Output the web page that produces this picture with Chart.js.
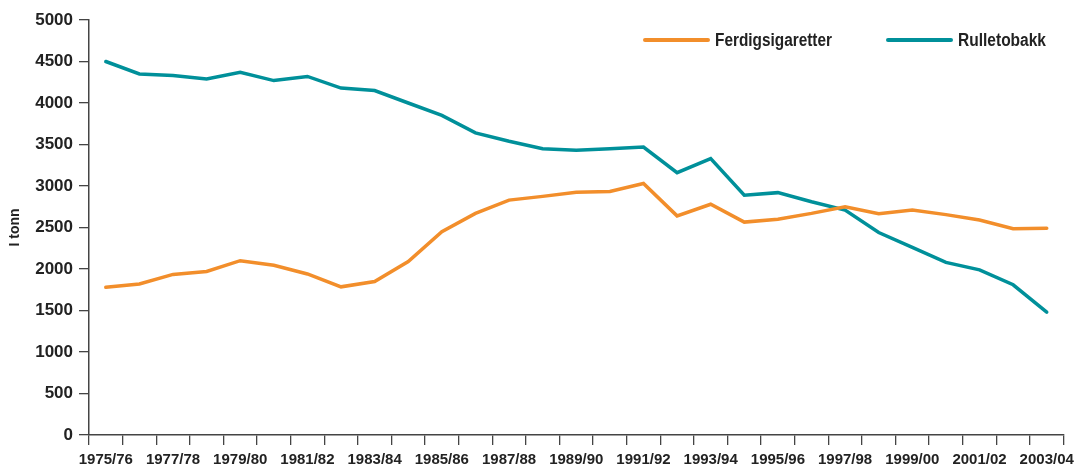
<!DOCTYPE html>
<html>
<head>
<meta charset="utf-8">
<script src="https://cdn.jsdelivr.net/npm/chart.js@4"></script>
<style>
html,body{margin:0;padding:0;background:#fff;}
#wrap{width:1080px;height:467px;position:relative;}
</style>
</head>
<body>
<div id="wrap"><canvas id="c" width="1080" height="467"></canvas></div>
<script>
const categories = ["1975/76","1976/77","1977/78","1978/79","1979/80","1980/81","1981/82","1982/83","1983/84","1984/85","1985/86","1986/87","1987/88","1988/89","1989/90","1990/91","1991/92","1992/93","1993/94","1994/95","1995/96","1996/97","1997/98","1998/99","1999/00","2000/01","2001/02","2002/03","2003/04"];
const ferdigsigaretter = [1780,1820,1935,1970,2100,2045,1940,1785,1850,2090,2450,2670,2830,2875,2925,2935,3030,2640,2780,2565,2600,2670,2750,2665,2710,2655,2590,2485,2490];
const rulletobakk = [4500,4350,4330,4290,4370,4270,4320,4180,4150,4000,3850,3640,3540,3450,3430,3450,3470,3160,3330,2890,2920,2810,2710,2440,2260,2080,1990,1810,1480];
const seriesNames = ["Ferdigsigaretter","Rulletobakk"];
const seriesColors = ["#F28E2B","#00909A"];
const yTitle = "I tonn";

const legendPlugin = {
  id: 'customLegend',
  afterDraw(chart){
    const ctx = chart.ctx;
    ctx.save();
    const pos = [645, 888];
    const textW = [117, 88];
    chart.data.datasets.forEach((ds, i) => {
      const x = pos[i], y = 40;
      ctx.strokeStyle = ds.borderColor;
      ctx.lineWidth = 4;
      ctx.lineCap = 'round';
      ctx.beginPath(); ctx.moveTo(x, y); ctx.lineTo(x + 63, y); ctx.stroke();
      ctx.fillStyle = '#222';
      ctx.font = 'bold 18px "Liberation Sans", Arial, sans-serif';
      ctx.textBaseline = 'middle';
      ctx.textAlign = 'left';
      const w = ctx.measureText(ds.label).width;
      const sx = textW[i] / w;
      ctx.save();
      ctx.translate(x + 70, y + 1);
      ctx.scale(sx, 1);
      ctx.fillText(ds.label, 0, 0);
      ctx.restore();
    });
    ctx.restore();
  }
};

new Chart(document.getElementById('c'), {
  type: 'line',
  data: {
    labels: categories,
    datasets: [
      {label: seriesNames[0], data: ferdigsigaretter, borderColor: seriesColors[0], backgroundColor: seriesColors[0], borderWidth: 3.5, pointRadius: 0, tension: 0, borderJoinStyle: 'miter', borderCapStyle: 'round'},
      {label: seriesNames[1], data: rulletobakk, borderColor: seriesColors[1], backgroundColor: seriesColors[1], borderWidth: 3.5, pointRadius: 0, tension: 0, borderJoinStyle: 'miter', borderCapStyle: 'round'}
    ]
  },
  options: {
    responsive: false,
    animation: false,
    layout: {padding: {top: 20, right: 9, left: 3, bottom: 0}},
    plugins: {legend: {display: false}, tooltip: {enabled: false}},
    scales: {
      x: {
        offset: true,
        afterFit: function(s){ s.height = 32; },
        grid: {offset: true, drawOnChartArea: false, drawTicks: true, tickLength: 10, color: '#444', lineWidth: 1.3},
        border: {display: true, color: '#444', width: 1.5},
        ticks: {
          autoSkip: false, maxRotation: 0, padding: 6, color: '#222',
          font: {family: '"Liberation Sans", Arial, sans-serif', weight: 'bold', size: 15},
          callback: function(v, i){ return i % 2 === 0 ? categories[i] : ''; }
        }
      },
      y: {
        min: 0, max: 5000,
        afterFit: function(s){ s.width = 86; },
        grid: {drawOnChartArea: false, drawTicks: true, tickLength: 10, color: '#444', lineWidth: 1.3},
        border: {display: true, color: '#444', width: 1.5},
        ticks: {stepSize: 500, padding: 6, color: '#222',
          font: {family: '"Liberation Sans", Arial, sans-serif', weight: 'bold', size: 17},
          callback: function(v){ return String(v); }},
        title: {display: true, text: yTitle, color: '#222', padding: {top: 4, bottom: 6},
          font: {family: '"Liberation Sans", Arial, sans-serif', weight: 'bold', size: 14}}
      }
    }
  },
  plugins: [legendPlugin]
});
</script>
</body>
</html>
